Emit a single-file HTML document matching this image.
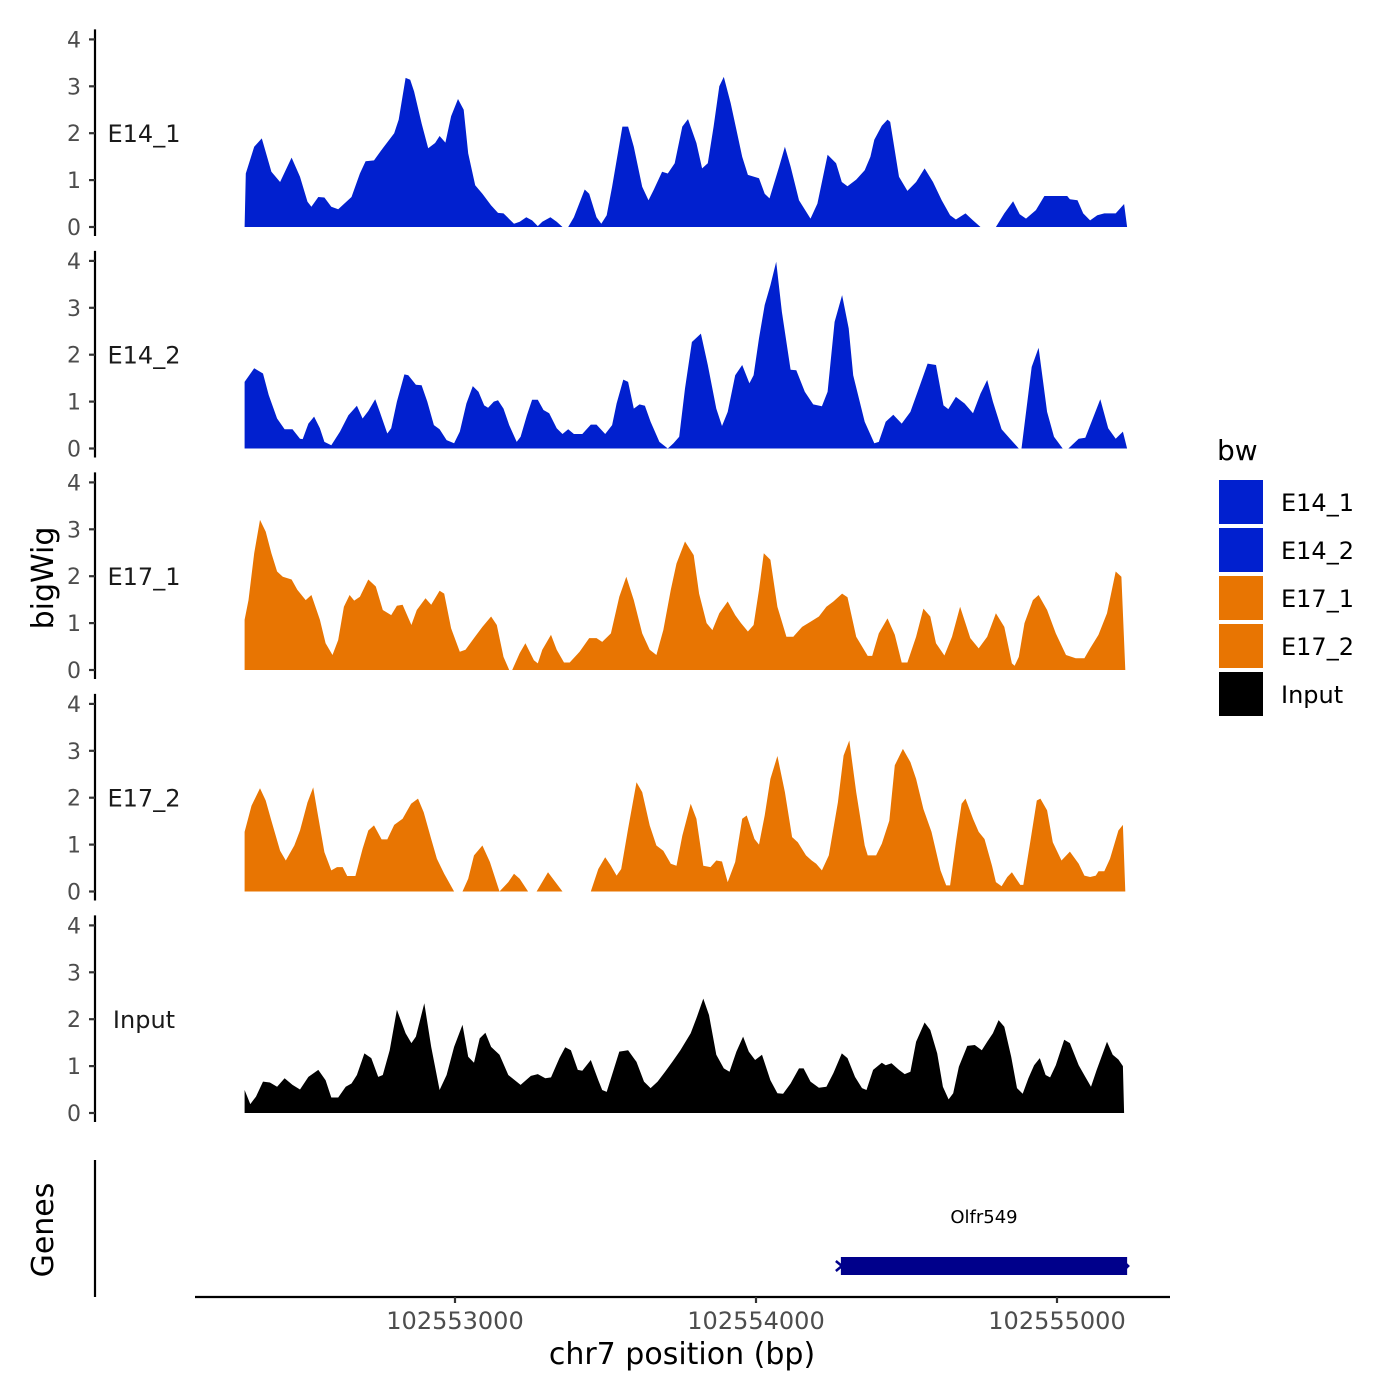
<!DOCTYPE html>
<html><head><meta charset="utf-8"><style>
html,body{margin:0;padding:0;background:#fff;}
svg{display:block;font-family:"DejaVu Sans","Liberation Sans",sans-serif;}
</style></head><body>
<svg id="chart" width="1400" height="1400" viewBox="0 0 1400 1400" xmlns="http://www.w3.org/2000/svg"></svg>
<script>
// ---- data ----
const regionStart = 102552286; // bp offset base for positions below
const trackNames = ["E14_1","E14_2","E17_1","E17_2","Input"];
const trackColors = ["#0120CF","#0120CF","#E87502","#E87502","#000000"];
const yTicks = [0,1,2,3,4];
const xTickValues = [102553000,102554000,102555000];
const xTickLabels = ["102553000","102554000","102555000"];
const geneName = "Olfr549";
const geneStart = 102554282;
const geneEnd = 102555233;

const e14_1_pos = [15,19,47,72,104,133,171,199,224,237,260,280,303,326,370,398,417,445,474,512,527,550,565,578,603,625,648,663,682,701,724,743,758,781,805,834,857,875,910,929,951,970,989,1004,1031,1052,1071,1090,1109,1145,1160,1184,1200,1218,1236,1270,1289,1308,1336,1357,1374,1402,1421,1444,1469,1488,1516,1535,1554,1573,1592,1607,1630,1668,1687,1724,1743,1759,1791,1810,1829,1857,1895,1918,1952,1980,1999,2018,2047,2075,2094,2107,2132,2151,2160,2189,2217,2246,2274,2302,2331,2359,2378,2410,2435,2460,2511,2539,2568,2590,2611,2644,2672,2748,2757,2782,2801,2824,2848,2871,2909,2937,2947];
const e14_1_val = [0,1.14,1.71,1.89,1.18,0.96,1.48,1.07,0.54,0.43,0.64,0.63,0.43,0.38,0.64,1.14,1.4,1.42,1.68,2.0,2.29,3.18,3.14,2.89,2.21,1.68,1.79,1.94,1.8,2.36,2.73,2.5,1.57,0.89,0.71,0.46,0.3,0.29,0.07,0.11,0.21,0.14,0.02,0.11,0.21,0.11,0,0,0.21,0.8,0.71,0.21,0.07,0.25,0.86,2.14,2.14,1.71,0.86,0.57,0.79,1.18,1.14,1.36,2.14,2.3,1.79,1.25,1.36,2.14,3.0,3.2,2.64,1.5,1.11,1.04,0.71,0.61,1.29,1.71,1.29,0.57,0.18,0.5,1.54,1.36,0.96,0.87,1.01,1.21,1.5,1.86,2.16,2.29,2.24,1.07,0.77,0.96,1.25,0.96,0.57,0.25,0.16,0.29,0.14,0,0,0.29,0.55,0.27,0.18,0.36,0.66,0.66,0.59,0.57,0.29,0.14,0.25,0.29,0.29,0.49,0];

const e14_2_pos = [15,47,76,95,123,148,174,199,208,227,246,265,280,303,332,360,388,407,426,449,464,489,502,521,546,559,584,603,622,644,663,686,711,730,752,773,792,811,824,843,857,875,894,919,932,953,970,989,1008,1027,1052,1071,1090,1109,1137,1165,1184,1213,1236,1251,1273,1289,1308,1327,1345,1364,1393,1421,1440,1459,1478,1501,1531,1554,1582,1601,1620,1645,1668,1692,1706,1724,1743,1762,1781,1800,1829,1848,1876,1904,1933,1952,1975,2000,2022,2037,2075,2107,2122,2145,2170,2198,2227,2255,2284,2312,2337,2353,2378,2407,2435,2460,2482,2501,2530,2558,2587,2596,2630,2653,2681,2704,2733,2752,2786,2808,2833,2858,2884,2909,2933,2947];
const e14_2_val = [1.42,1.71,1.6,1.14,0.64,0.41,0.41,0.21,0.2,0.53,0.68,0.43,0.14,0.07,0.36,0.71,0.91,0.64,0.8,1.05,0.78,0.32,0.43,1.0,1.58,1.56,1.36,1.35,1.0,0.5,0.41,0.18,0.11,0.36,0.96,1.33,1.21,0.92,0.87,1.0,1.03,0.85,0.5,0.14,0.25,0.71,1.04,1.04,0.82,0.75,0.43,0.31,0.41,0.31,0.31,0.51,0.51,0.31,0.5,0.96,1.47,1.42,0.85,0.94,0.91,0.57,0.14,0,0.11,0.25,1.28,2.27,2.45,1.78,0.85,0.48,0.78,1.56,1.78,1.39,1.56,2.35,3.06,3.48,3.98,2.91,1.68,1.67,1.21,0.94,0.9,1.21,2.7,3.27,2.56,1.56,0.57,0.11,0.14,0.57,0.72,0.53,0.78,1.28,1.81,1.78,0.92,0.84,1.1,0.96,0.75,1.17,1.46,1.0,0.41,0.21,0,0,1.74,2.15,0.78,0.25,0,0,0.21,0.23,0.64,1.05,0.43,0.21,0.36,0];

const e17_1_pos = [15,28,47,66,85,104,123,142,171,190,218,237,265,284,307,326,345,364,379,398,426,451,474,502,521,540,569,587,616,635,663,678,701,730,749,777,805,834,853,875,894,904,929,948,976,989,1004,1033,1052,1076,1095,1128,1160,1184,1203,1232,1260,1283,1308,1336,1361,1383,1406,1431,1450,1478,1507,1525,1550,1569,1592,1620,1645,1664,1687,1706,1724,1740,1762,1785,1815,1838,1867,1895,1923,1948,1971,2000,2018,2047,2085,2100,2122,2151,2175,2198,2217,2246,2270,2293,2312,2340,2365,2392,2426,2454,2482,2511,2539,2564,2573,2587,2606,2634,2653,2681,2710,2744,2776,2805,2824,2852,2880,2909,2928,2941];
const e17_1_val = [1.07,1.49,2.49,3.2,2.95,2.49,2.1,1.99,1.93,1.71,1.49,1.6,1.07,0.57,0.32,0.64,1.35,1.6,1.48,1.56,1.93,1.78,1.28,1.17,1.37,1.39,0.96,1.28,1.53,1.39,1.69,1.63,0.89,0.39,0.43,0.68,0.92,1.14,0.96,0.28,0,0,0.36,0.57,0.21,0.14,0.43,0.75,0.43,0.16,0.16,0.39,0.68,0.68,0.6,0.78,1.56,1.99,1.49,0.78,0.43,0.32,0.85,1.71,2.27,2.74,2.45,1.63,1.0,0.85,1.21,1.46,1.17,1.0,0.82,0.96,1.71,2.49,2.35,1.35,0.71,0.71,0.92,1.03,1.14,1.35,1.46,1.63,1.55,0.71,0.3,0.3,0.78,1.1,0.75,0.16,0.16,0.71,1.31,1.14,0.57,0.31,0.71,1.35,0.68,0.46,0.71,1.21,0.92,0.14,0.09,0.28,1.0,1.49,1.6,1.28,0.78,0.32,0.25,0.25,0.46,0.75,1.21,2.1,1.99,0];

const e17_2_pos = [15,38,66,85,104,133,152,180,199,224,243,256,280,303,322,341,356,383,407,426,445,470,489,512,540,568,591,610,635,654,678,711,739,758,777,805,830,862,891,910,929,957,985,1023,1071,1165,1190,1213,1232,1251,1266,1289,1317,1336,1361,1383,1406,1431,1450,1469,1497,1516,1539,1563,1582,1601,1620,1645,1668,1683,1709,1724,1743,1762,1785,1810,1834,1853,1880,1899,1914,1933,1956,1986,2005,2024,2047,2075,2085,2113,2132,2157,2175,2202,2227,2246,2270,2297,2327,2346,2359,2378,2397,2410,2435,2454,2473,2498,2511,2530,2549,2564,2592,2602,2625,2647,2659,2681,2700,2729,2757,2786,2805,2824,2843,2852,2871,2890,2918,2933,2941];
const e17_2_val = [1.27,1.83,2.2,1.94,1.51,0.87,0.66,0.98,1.3,1.9,2.22,1.73,0.84,0.45,0.52,0.52,0.33,0.33,0.91,1.3,1.41,1.11,1.11,1.42,1.55,1.87,1.98,1.69,1.12,0.7,0.38,0,0,0.27,0.77,0.98,0.63,0,0.2,0.38,0.27,0,0,0.41,0,0,0.48,0.73,0.55,0.34,0.48,1.34,2.33,2.12,1.41,0.98,0.87,0.59,0.55,1.19,1.87,1.55,0.55,0.52,0.66,0.64,0.2,0.63,1.55,1.62,1.12,1.0,1.62,2.4,2.89,2.12,1.16,1.05,0.77,0.66,0.59,0.45,0.77,1.9,2.9,3.22,2.12,0.98,0.77,0.77,1.02,1.51,2.69,3.04,2.76,2.4,1.76,1.27,0.45,0.13,0.13,1.05,1.87,1.98,1.55,1.27,1.12,0.55,0.2,0.11,0.31,0.41,0.14,0.14,1.05,1.94,1.98,1.73,1.05,0.66,0.85,0.59,0.34,0.31,0.34,0.43,0.43,0.7,1.3,1.42,0];

const input_pos = [15,34,53,76,99,123,148,174,199,227,260,284,303,326,351,370,388,413,436,459,474,497,521,550,569,584,612,635,663,686,711,739,758,777,796,815,834,862,891,932,966,989,1014,1033,1061,1080,1099,1122,1137,1165,1190,1203,1218,1241,1260,1289,1317,1342,1364,1387,1412,1436,1463,1497,1516,1539,1558,1582,1607,1626,1649,1671,1690,1711,1734,1762,1785,1804,1829,1857,1872,1895,1923,1948,1971,1999,2018,2043,2066,2081,2103,2132,2145,2164,2189,2208,2227,2246,2274,2293,2316,2335,2354,2369,2388,2416,2441,2464,2482,2501,2520,2539,2562,2581,2600,2619,2638,2657,2676,2691,2710,2738,2757,2786,2808,2827,2846,2880,2899,2918,2933,2937];
const input_val = [0.49,0.19,0.35,0.67,0.65,0.56,0.74,0.6,0.5,0.77,0.92,0.7,0.33,0.33,0.56,0.63,0.81,1.27,1.17,0.77,0.81,1.34,2.2,1.7,1.49,1.63,2.34,1.41,0.49,0.81,1.41,1.88,1.2,1.07,1.59,1.71,1.41,1.24,0.81,0.6,0.79,0.83,0.74,0.76,1.17,1.4,1.34,0.92,0.9,1.13,0.7,0.49,0.45,0.92,1.31,1.34,1.09,0.67,0.53,0.67,0.88,1.09,1.34,1.7,2.02,2.44,2.09,1.24,0.95,0.88,1.31,1.63,1.31,1.13,1.24,0.7,0.42,0.41,0.63,0.95,0.95,0.67,0.54,0.56,0.85,1.27,1.17,0.77,0.53,0.49,0.92,1.07,1.02,1.06,0.92,0.83,0.88,1.52,1.93,1.77,1.27,0.56,0.29,0.42,0.99,1.43,1.45,1.34,1.52,1.7,1.98,1.84,1.2,0.53,0.41,0.74,1.02,1.17,0.81,0.76,1.02,1.56,1.49,1.02,0.77,0.56,0.92,1.52,1.24,1.14,1.0,0];

const trackPos = [e14_1_pos,e14_2_pos,e17_1_pos,e17_2_pos,input_pos];
const trackVal = [e14_1_val,e14_2_val,e17_1_val,e17_2_val,input_val];

// ---- scales ----
const NS = "http://www.w3.org/2000/svg";
const svg = document.getElementById("chart");
function xScale(bp){ return 455 + (bp - 102553000) * 0.301; }
function panelBase(i){ return 227 + i * 221.5; }
function yScale(i, v){ return panelBase(i) - v * 46.9; }
function mk(tag, attrs, parent){
  const el = document.createElementNS(NS, tag);
  for (const k in attrs) el.setAttribute(k, attrs[k]);
  (parent || svg).appendChild(el);
  return el;
}

// ---- tracks ----
for (let i = 0; i < 5; i++){
  const g = mk("g", {});
  
  
  const pos = trackPos[i], val = trackVal[i];
  let d = "M" + xScale(regionStart + pos[0]).toFixed(1) + "," + panelBase(i).toFixed(1);
  for (let j = 0; j < pos.length; j++){
    d += "L" + xScale(regionStart + pos[j]).toFixed(1) + "," + yScale(i, val[j]).toFixed(1);
  }
  d += "L" + xScale(regionStart + pos[pos.length-1]).toFixed(1) + "," + panelBase(i).toFixed(1) + "Z";
  const area = mk("path", {d: d, fill: trackColors[i]}, g);
  
  
  const ax = mk("line", {x1:95, x2:95, y1:yScale(i,4)-10, y2:panelBase(i)+9, stroke:"#000", "stroke-width":2.2}, g);
  
  
  for (const t of yTicks){
    const y = yScale(i, t);
    const tk = mk("line", {x1:89, x2:95, y1:y, y2:y, stroke:"#333", "stroke-width":2.2}, g);
    
    
    const tl = mk("text", {x:81, y:y+8, "text-anchor":"end", "font-size":22, fill:"#4d4d4d"}, g);
    tl.textContent = String(t);
    
    
  }
  const lab = mk("text", {x:144, y: yScale(i,2)+9, "text-anchor":"middle", "font-size":24, fill:"#1a1a1a"}, g);
  lab.textContent = trackNames[i];
  
  
}

// ---- genes panel ----
const gAx = mk("line", {x1:95, x2:95, y1:1160, y2:1297, stroke:"#000", "stroke-width":2.2});


const gx1 = xScale(geneStart), gx2 = xScale(geneEnd);
const gene = mk("rect", {x:gx1, y:1257, width:gx2-gx1, height:18, fill:"#00008B"});


const gm1 = mk("path", {d:"M"+(gx1-5)+",1261 L"+(gx1+1)+",1266 L"+(gx1-5)+",1271", stroke:"#00008B", "stroke-width":2.5, fill:"none"});


const gm2 = mk("path", {d:"M"+(gx2-3)+",1262 L"+(gx2+1)+",1266 L"+(gx2-3)+",1270", stroke:"#00008B", "stroke-width":2.5, fill:"none"});


const gl = mk("text", {x:(gx1+gx2)/2, y:1223, "text-anchor":"middle", "font-size":18, fill:"#000"});
gl.textContent = geneName;



// ---- x axis ----
const xa = mk("line", {x1:195, x2:1170, y1:1297, y2:1297, stroke:"#000", "stroke-width":2.2});


for (let k = 0; k < xTickValues.length; k++){
  const x = xScale(xTickValues[k]);
  const t = mk("line", {x1:x, x2:x, y1:1297, y2:1303, stroke:"#333", "stroke-width":2.2});
  
  
  const l = mk("text", {x:x, y:1329, "text-anchor":"middle", "font-size":24, fill:"#4d4d4d"});
  l.textContent = xTickLabels[k];
  
  
}
const xt = mk("text", {x:682, y:1364, "text-anchor":"middle", "font-size":30, fill:"#000"});
xt.textContent = "chr7 position (bp)";



const yt = mk("text", {x:0, y:0, transform:"translate(53,578) rotate(-90)", "text-anchor":"middle", "font-size":30, fill:"#000"});
yt.textContent = "bigWig";


const gt = mk("text", {x:0, y:0, transform:"translate(53,1230) rotate(-90)", "text-anchor":"middle", "font-size":30, fill:"#000"});
gt.textContent = "Genes";



// ---- legend ----
const lg = mk("g", {});


const lt = mk("text", {x:1217, y:460, "font-size":28, fill:"#000"}, lg);
lt.textContent = "bw";


for (let i = 0; i < 5; i++){
  const y = 480 + i * 48;
  const r = mk("rect", {x:1219, y:y, width:44, height:44, fill:trackColors[i]}, lg);
  
  
  const t = mk("text", {x:1281, y:y+31, "font-size":24, fill:"#000"}, lg);
  t.textContent = trackNames[i];
  
  
}
</script>
</body></html>
